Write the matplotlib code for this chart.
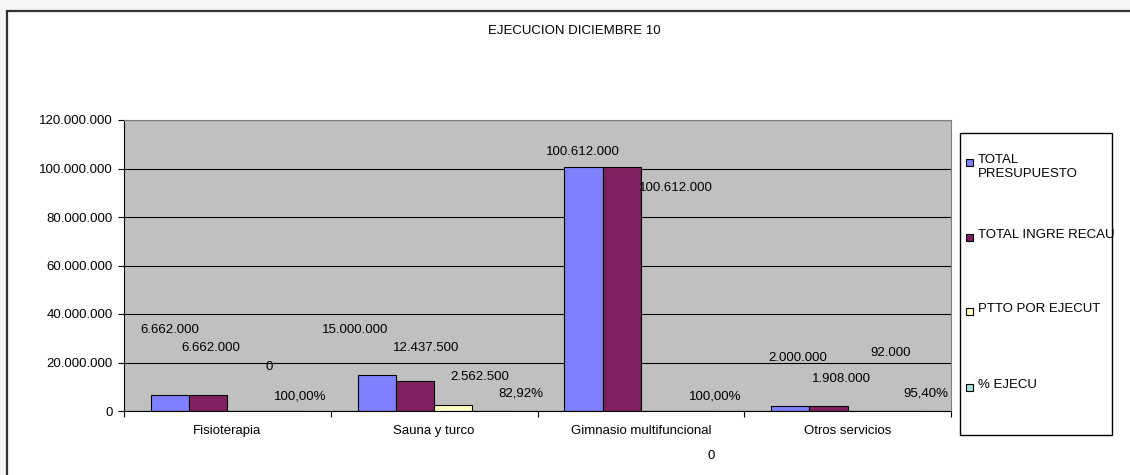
import matplotlib
matplotlib.use('Agg')
import matplotlib.pyplot as plt
import matplotlib.patches as mpatches
from matplotlib.ticker import FuncFormatter
import numpy as np

plt.rcParams['font.family'] = ['Liberation Sans', 'DejaVu Sans']
plt.rcParams['font.size'] = 9

# Data
categories = ['Fisioterapia', 'Sauna y turco', 'Gimnasio multifuncional', 'Otros servicios']
series_names = ['TOTAL\nPRESUPUESTO', 'TOTAL INGRE RECAU', 'PTTO POR EJECUT', '% EJECU']
total_presupuesto = [6662000, 15000000, 100612000, 2000000]
total_ingre_recau = [6662000, 12437500, 100612000, 1908000]
ptto_por_ejecut = [0, 2562500, 0, 92000]
pct_ejecu = [1.0, 0.8292, 1.0, 0.954]
colors = ['#8080FF', '#802060', '#FFFFC0', '#A0E0E0']

# label placement (manually dragged labels in the original), per series per category
label_dx = [[-0.28, -0.38, -0.28, -0.24],
            [-0.08, -0.04, 0.17, -0.03],
            [0.20, 0.22, 0.34, 0.21],
            [0.35, 0.42, 0.36, 0.38]]
label_y = [[33.4e6, 33.4e6, 106.8e6, 21.8e6],
           [26.0e6, 26.0e6, 92.0e6, 13.2e6],
           [18.1e6, 14.0e6, -18.4e6, 24.0e6],
           [5.8e6, 7.4e6, 5.8e6, 7.4e6]]


def fmt_num(v):
    return f'{v:,.0f}'.replace(',', '.')


def fmt_pct(v):
    return f'{v * 100:.2f}%'.replace('.', ',')


W, H = 1130, 475
fig = plt.figure(figsize=(W / 100, H / 100), dpi=100, facecolor='#f6f6f6')

# outer chart border (only top/left visible in the original)
fig.patches.append(mpatches.Rectangle((7 / W, -0.2), 1.2, (H - 11) / H + 0.2,
                                      transform=fig.transFigure, facecolor='white',
                                      edgecolor='#333333', lw=1.6, zorder=-2))

ax = fig.add_axes([124 / W, (H - 411) / H, (951 - 124) / W, (411 - 120) / H])
ax.set_facecolor('#C0C0C0')

series = [total_presupuesto, total_ingre_recau, ptto_por_ejecut, pct_ejecu]
x = np.arange(len(categories))
width = 0.185
offsets = [-1.5 * width, -0.5 * width, 0.5 * width, 1.5 * width]
for i, vals in enumerate(series):
    ax.bar(x + offsets[i], vals, width, color=colors[i], edgecolor='black', lw=0.8, zorder=2)
    for j, v in enumerate(vals):
        txt = fmt_pct(v) if i == 3 else fmt_num(v)
        ax.text(j + label_dx[i][j], label_y[i][j], txt, ha='center', va='center', fontsize=9.5, zorder=4)

ax.set_xlim(-0.5, len(categories) - 0.5)
ax.set_ylim(0, 120e6)
ax.set_yticks(np.arange(0, 120e6 + 1, 20e6))
ax.yaxis.set_major_formatter(FuncFormatter(lambda v, p: fmt_num(v)))
ax.yaxis.grid(True, color='black', lw=0.8)
ax.set_axisbelow(True)
ax.tick_params(axis='y', length=4, width=0.8, pad=4, labelsize=9.5)

ax.set_xticks(np.arange(-0.5, len(categories), 1.0))
ax.set_xticklabels([])
ax.set_xticks(x, minor=True)
ax.set_xticklabels(categories, minor=True)
ax.tick_params(axis='x', which='major', length=4, width=0.8)
ax.tick_params(axis='x', which='minor', length=0, pad=10, labelsize=9.5)

for s in ['top', 'right']:
    ax.spines[s].set_color('#808080')
for s in ['left', 'bottom']:
    ax.spines[s].set_color('black')

fig.text(574 / W, (H - 31) / H, 'EJECUCION DICIEMBRE 10', ha='center', va='center', fontsize=9.5)

# legend box
fig.patches.append(mpatches.Rectangle((960 / W, (H - 435) / H), 152 / W, 302 / H,
                                      transform=fig.transFigure, facecolor='white',
                                      edgecolor='black', lw=1.0, zorder=1))
entry_y = [162, 237, 311, 387]
for i, name in enumerate(series_names):
    yc = entry_y[i]
    fig.patches.append(mpatches.Rectangle((966 / W, (H - yc - 3.5) / H), 7 / W, 7 / H,
                                          transform=fig.transFigure, facecolor=colors[i],
                                          edgecolor='black', lw=0.8, zorder=2))
    fig.text(978 / W, (H - yc + 8) / H, name, ha='left', va='top', fontsize=9.5,
             linespacing=1.25, zorder=3)

plt.savefig('out.png', dpi=100, facecolor=fig.get_facecolor())
